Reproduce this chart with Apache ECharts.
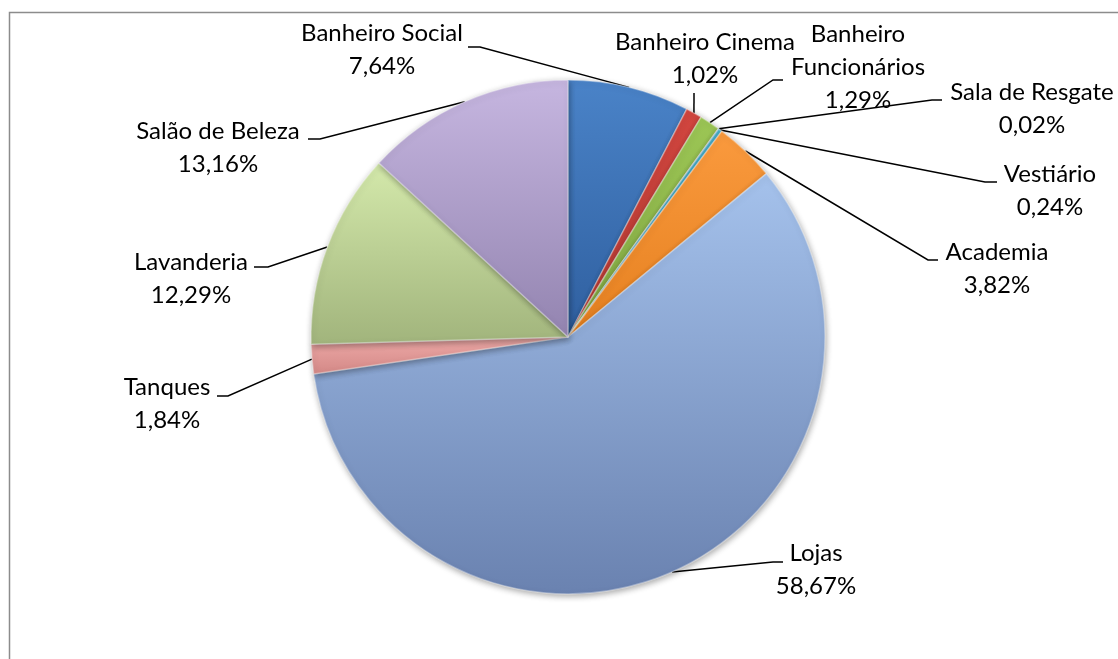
<!DOCTYPE html>
<html>
<head>
<meta charset="utf-8">
<script src="https://cdn.jsdelivr.net/npm/echarts@6/dist/echarts.min.js"></script>
<style>
  html, body { margin: 0; padding: 0; background: #ffffff; }
  #chart { width: 1118px; height: 659px; }
</style>
</head>
<body>
<div id="chart"></div>
<script>
// Share of consumption by area (percent), clockwise from 12 o'clock
const categories = [
  'Banheiro Social', 'Banheiro Cinema', 'Banheiro Funcionários', 'Sala de Resgate',
  'Vestiário', 'Academia', 'Lojas', 'Tanques', 'Lavanderia', 'Salão de Beleza'
];
const shares = [7.64, 1.02, 1.29, 0.02, 0.24, 3.82, 58.67, 1.84, 12.29, 13.16];

// Slice fills: [top, bottom] of a vertical gradient
const sliceColors = [
  ['#4a83c8', '#2f5f9f'],
  ['#d2463f', '#b33a33'],
  ['#9cc655', '#82a842'],
  ['#8a6bb3', '#6f5596'],
  ['#4bb2cf', '#3a97b2'],
  ['#fa9a3e', '#e5801f'],
  ['#a5c2ec', '#6a82b0'],
  ['#eeaaa8', '#d38886'],
  ['#d4e9ab', '#a1b47c'],
  ['#c6b6e0', '#9384b0']
];

// Label block centres, leader bend points and leader ends (pixels)
const labelCentres = [[382, 50], [705, 59], [858, 67], [1032, 109], [1050, 191], [997, 269], [816, 570], [167, 404], [191, 279], [218, 148]];
const leaderBends  = [[480, 47], [694, 93], [773, 80], [932, 100], [985, 182], [928, 260], [773, 562], [228, 396], [268, 267], [320, 139]];
const leaderEnds   = [[468, 47], null, [783, 80], [942, 100], [997, 182], [938, 260], [783, 562], [217, 396], [254, 267], [308, 139]];

// Names that are broken over two lines in their label
const wrappedNames = ['Banheiro Funcionários'];

const chart = echarts.init(document.getElementById('chart'), null, { renderer: 'canvas' });

const data = categories.map((name, i) => ({
  name: name,
  value: shares[i],
  itemStyle: {
    color: {
      type: 'linear', x: 0, y: 0, x2: 0, y2: 1,
      colorStops: [
        { offset: 0, color: sliceColors[i][0] },
        { offset: 1, color: sliceColors[i][1] }
      ]
    }
  }
}));

function fmtPercent(v) {
  return v.toFixed(2).replace('.', ',') + '%';
}

chart.setOption({
  backgroundColor: '#ffffff',
  animation: false,
  graphic: [{
    type: 'rect',
    shape: { x: 9.5, y: 12.5, width: 1300, height: 800 },
    style: { fill: 'none', stroke: '#8c8c8c', lineWidth: 1.5 },
    silent: true,
    z: -1
  }],
  series: [{
    type: 'pie',
    center: [568, 337],
    radius: [0, 257],
    startAngle: 90,
    clockwise: true,
    avoidLabelOverlap: false,
    minShowLabelAngle: 0,
    data: data,
    itemStyle: {
      borderColor: 'rgba(255,255,255,0.35)',
      borderWidth: 1.5,
      shadowBlur: 6,
      shadowColor: 'rgba(0,0,0,0.35)',
      shadowOffsetX: 1,
      shadowOffsetY: 2
    },
    label: {
      show: true,
      position: 'outside',
      color: '#000000',
      fontFamily: 'Lato',
      fontSize: 24,
      lineHeight: 33,
      formatter: function (p) {
        const name = wrappedNames.indexOf(p.name) >= 0 ? p.name.replace(' ', '\n') : p.name;
        return name + '\n' + fmtPercent(p.value);
      }
    },
    labelLine: {
      show: true,
      length: 10,
      length2: 10,
      smooth: false,
      lineStyle: { color: '#000000', width: 1.5 }
    },
    labelLayout: function (params) {
      const i = params.dataIndex;
      const anchor = params.labelLinePoints ? params.labelLinePoints[0] : leaderBends[i];
      const pts = [anchor, leaderBends[i]];
      if (leaderEnds[i]) pts.push(leaderEnds[i]);
      return {
        x: labelCentres[i][0],
        y: labelCentres[i][1],
        align: 'center',
        verticalAlign: 'middle',
        labelLinePoints: pts
      };
    }
  }]
});
</script>
</body>
</html>
